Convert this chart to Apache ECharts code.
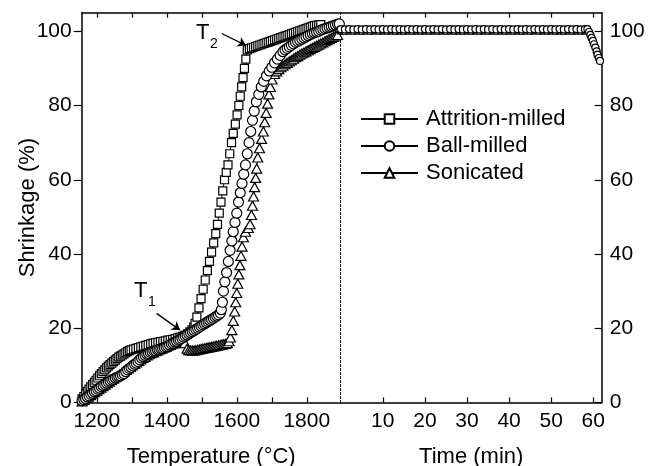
<!DOCTYPE html>
<html>
<head>
<meta charset="utf-8">
<script src="https://cdn.jsdelivr.net/npm/echarts@6/dist/echarts.min.js"></script>
<style>
html, body { margin: 0; padding: 0; background: #fff; }
#chart { width: 658px; height: 466px; }
</style>
</head>
<body>
<div id="chart"></div>
<script>
// shrinkage (%) vs temperature (°C)
const tempAttrition = [
  [1158,1],[1163,1.6],[1168,2.3],[1173,3],[1178,3.6],[1183,4.2],[1188,4.8],[1193,5.4],[1198,6],[1203,6.6],
  [1208,7.2],[1213,7.8],[1218,8.3],[1223,8.8],[1228,9.3],[1233,9.8],[1238,10.2],[1243,10.6],[1248,11],
  [1253,11.4],[1258,11.8],[1263,12.2],[1268,12.5],[1273,12.8],[1278,13.1],[1283,13.4],[1288,13.7],
  [1293,14],[1298,14.2],[1305,14.4],[1312,14.6],[1319,14.8],[1326,15],[1333,15.2],[1340,15.4],
  [1347,15.6],[1354,15.8],[1361,16],[1368,16.1],[1375,16.2],[1382,16.4],[1389,16.5],[1396,16.6],
  [1403,16.8],[1410,16.9],[1417,17],[1424,17.2],[1431,17.4],[1438,17.6],[1445,17.8],[1452,18.1],
  [1459,18.5],[1466,19],[1472,19.6],[1477,20.3],[1481,21.3],[1486,23],[1492,25.5],[1498,28],
  [1504,30.5],[1510,33],[1516,35.5],[1522,38],[1528,40.5],[1534,43],[1540,45.5],[1545,48],[1550,51],
  [1555,54],[1560,57],[1565,60],[1570,62],[1575,64],[1580,67],[1585,70],[1590,72.5],[1596,75],
  [1601,77.5],[1606,80],[1610,82.5],[1614,85],[1618,87.5],[1622,90],[1626,92.5],[1630,95],
  [1636,95.3],[1642,95.5],[1648,95.7],[1654,95.9],[1660,96.1],[1666,96.3],[1672,96.5],[1678,96.7],
  [1684,96.9],[1690,97.1],[1696,97.3],[1702,97.5],[1708,97.7],[1714,97.9],[1720,98.1],[1726,98.3],
  [1732,98.5],[1738,98.7],[1744,98.9],[1750,99.1],[1756,99.3],[1762,99.5],[1768,99.7],[1774,99.9],
  [1780,100.1],[1786,100.3],[1792,100.5],[1798,100.7],[1804,100.9],[1810,101.1],[1816,101.3],
  [1822,101.5],[1828,101.6],[1834,101.7],[1840,101.8]
];
const tempBall = [
  [1158,0.5],[1163,0.8],[1168,1.1],[1173,1.5],[1178,1.8],[1183,2.2],[1188,2.5],[1193,2.9],[1198,3.2],
  [1203,3.6],[1208,3.9],[1213,4.3],[1218,4.6],[1223,4.9],[1228,5.2],[1233,5.5],[1238,5.8],[1243,6.1],
  [1248,6.3],[1253,6.6],[1258,6.8],[1263,7],[1268,7.2],[1273,7.5],[1278,7.8],[1283,8.3],[1288,8.8],
  [1293,9.2],[1298,9.5],[1303,9.9],[1308,10.3],[1313,10.6],[1318,11],[1323,11.5],[1328,12],[1333,12.4],
  [1338,12.7],[1343,13],[1348,13.2],[1353,13.5],[1358,13.7],[1363,13.9],[1368,14],[1373,14.2],
  [1378,14.3],[1383,14.5],[1388,14.6],[1393,14.8],[1398,15],[1403,15.2],[1408,15.5],[1413,15.8],
  [1418,16],[1423,16.3],[1428,16.5],[1433,16.8],[1438,17],[1443,17.3],[1448,17.6],[1453,17.9],
  [1458,18.2],[1463,18.5],[1468,18.8],[1473,19.1],[1478,19.4],[1483,19.7],[1488,20],[1493,20.3],
  [1498,20.6],[1503,20.9],[1508,21.2],[1513,21.5],[1518,21.8],[1523,22.1],[1528,22.4],[1533,22.7],
  [1538,23],[1543,23.3],[1548,23.6],[1553,24.1],[1556,25],[1559,27],[1562,30],[1566,32.5],[1571,35],
  [1576,38],[1581,41],[1586,43.5],[1590,46],[1595,48.5],[1600,51],[1605,54],[1610,56.5],[1615,59],
  [1620,61.5],[1625,64],[1630,67],[1635,70],[1640,73],[1645,76],[1650,78.5],[1656,81],[1663,83],
  [1670,85],[1677,86.5],[1685,88],[1693,89.3],[1700,90.3],[1708,91.5],[1716,92.5],[1724,93.5],
  [1732,94.5],[1738,95],[1744,95.4],[1750,95.8],[1756,96.2],[1762,96.6],[1768,97],[1774,97.3],
  [1780,97.6],[1786,97.9],[1792,98.2],[1798,98.5],[1804,98.8],[1810,99.1],[1816,99.4],[1822,99.6],
  [1828,99.8],[1834,100],[1840,100.3],[1846,100.5],[1852,100.7],[1858,100.9],[1864,101.1],
  [1870,101.3],[1876,101.5],[1882,101.7],[1888,101.9],[1893,102]
];
const tempSonic = [
  [1158,0.3],[1164,0.7],[1170,1.2],[1176,1.6],[1182,2],[1188,2.4],[1194,2.8],[1200,3.2],[1206,3.6],
  [1212,4],[1218,4.4],[1224,4.8],[1230,5.2],[1236,5.6],[1242,6],[1248,6.4],[1254,6.8],[1260,7.2],
  [1266,7.6],[1272,8],[1278,8.4],[1284,8.8],[1290,9.2],[1296,9.6],[1302,10],[1308,10.4],[1314,10.8],
  [1320,11.2],[1326,11.6],[1332,12],[1338,12.3],[1344,12.7],[1350,13],[1356,13.3],[1362,13.5],
  [1368,13.8],[1374,14],[1380,14.3],[1386,14.5],[1392,14.8],[1398,15],[1404,15.3],[1410,15.5],
  [1416,15.8],[1422,16],[1428,16.3],[1434,16.5],[1440,16.8],[1446,17],[1452,16],[1458,14.5],
  [1463,14.1],[1468,14],[1473,14],[1478,14],[1483,14.1],[1488,14.2],[1493,14.3],[1498,14.4],
  [1503,14.5],[1508,14.6],[1513,14.7],[1518,14.8],[1523,14.9],[1528,15],[1533,15.1],[1538,15.2],
  [1543,15.3],[1548,15.4],[1553,15.5],[1558,15.6],[1563,15.7],[1568,15.8],[1573,16],[1578,16.5],
  [1582,17.5],[1586,19.5],[1590,22],[1594,24.5],[1597,27],[1600,29.5],[1603,32],[1606,34.5],
  [1609,37],[1612,39.5],[1615,42],[1619,44.5],[1625,46],[1633,47],[1638,48],[1642,50.5],[1645,53],
  [1648,55.5],[1651,58],[1654,60.5],[1657,63],[1660,66],[1665,68.5],[1671,71],[1676,73],[1680,75.5],
  [1684,78],[1688,80.5],[1692,83],[1696,85],[1701,87],[1708,88.5],[1714,89.2],[1720,89.8],
  [1726,90.3],[1732,90.7],[1738,91.1],[1744,91.5],[1750,91.9],[1756,92.2],[1762,92.6],[1768,93],
  [1774,93.3],[1780,93.7],[1786,94],[1792,94.3],[1798,94.6],[1804,94.9],[1810,95.2],[1816,95.5],
  [1822,95.8],[1828,96.1],[1834,96.4],[1840,96.7],[1846,97],[1852,97.3],[1858,97.6],[1864,97.9],
  [1870,98.2],[1876,98.5],[1882,98.8],[1888,99]
];

// shrinkage (%) vs holding time (min)
const timeMin = [0,1,2,3,4,5,6,7,8,9,10,11,12,13,14,15,16,17,18,19,20,21,22,23,24,25,26,27,28,29,
  30,31,32,33,34,35,36,37,38,39,40,41,42,43,44,45,46,47,48,49,50,51,52,53,54,55,56,57,58];
const timeAttrition = [100.4,100.3,100.4,100.3,100.4,100.3,100.4,100.3,100.4,100.3,100.4,100.3,100.4,100.3,100.4,
  100.3,100.4,100.3,100.4,100.3,100.4,100.3,100.4,100.3,100.4,100.3,100.4,100.3,100.4,100.3,
  100.4,100.3,100.4,100.3,100.4,100.3,100.4,100.3,100.4,100.3,100.4,100.3,100.4,100.3,100.4,
  100.3,100.4,100.3,100.4,100.3,100.4,100.3,100.4,100.3,100.4,100.3,100.4,100.3,100.4];
const timeBall = [100.6,100.5,100.6,100.5,100.6,100.5,100.6,100.5,100.6,100.5,100.6,100.5,100.6,100.5,100.6,
  100.5,100.6,100.5,100.6,100.5,100.6,100.5,100.6,100.5,100.6,100.5,100.6,100.5,100.6,100.5,
  100.6,100.5,100.6,100.5,100.6,100.5,100.6,100.5,100.6,100.5,100.6,100.5,100.6,100.5,100.6,
  100.5,100.6,100.5,100.6,100.5,100.6,100.5,100.6,100.5,100.6,100.5,100.6,100.5,100.6];
const timeSonic = [100.1,100,100.1,100,100.1,100,100.1,100,100.1,100,100.1,100,100.1,100,100.1,
  100,100.1,100,100.1,100,100.1,100,100.1,100,100.1,100,100.1,100,100.1,100,
  100.1,100,100.1,100,100.1,100,100.1,100,100.1,100,100.1,100,100.1,100,100.1,
  100,100.1,100,100.1,100,100.1,100,100.1,100,100.1,100,100.1,100,100.1];
const ballTail = [[58.6,100.6],[59.0,99.8],[59.3,99],[59.6,98.2],[59.9,97.4],[60.2,96.5],
  [60.5,95.6],[60.8,94.6],[61.0,93.7],[61.3,92.8],[61.6,92]];

const tempTicks = [1200,1300,1400,1500,1600,1700,1800];
const tempLabels = [1200,1400,1600,1800];
const timeTicks = [10,20,30,40,50,60];
const yTicks = [0,20,40,60,80,100];

const names = ['Attrition-milled','Ball-milled','Sonicated'];
const FONT = '"Liberation Sans", Arial, sans-serif';

function pairs(xs, ys) { return xs.map((x, i) => [x, ys[i]]); }
function plain(v) { return String(v); }

function mkSeries(name, data, symbol, size, xi, yi, lw, bw) {
  return {
    type: 'line', name: name, data: data,
    xAxisIndex: xi, yAxisIndex: yi,
    symbol: symbol, symbolSize: size, showAllSymbol: true,
    lineStyle: { color: '#000', width: lw || 1 },
    itemStyle: { color: '#fff', borderColor: '#000', borderWidth: bw || 1.2 },
    emphasis: { disabled: true },
    animation: false
  };
}

function xAx(grid, pos, min, max, ticks, labels, name) {
  return {
    type: 'value', gridIndex: grid, position: pos, min: min, max: max,
    axisLine: { show: true, onZero: false, lineStyle: { color: '#000', width: 1.5 } },
    axisTick: { show: true, inside: true, length: 5, customValues: ticks, lineStyle: { color: '#000', width: 1.2 } },
    axisLabel: labels ? { customValues: labels, formatter: plain, color: '#000', fontSize: 21, fontFamily: FONT, margin: 8 } : { show: false },
    splitLine: { show: false },
    name: name || '', nameLocation: 'middle', nameGap: 43,
    nameTextStyle: { color: '#000', fontSize: 22, fontFamily: FONT }
  };
}

const attSeries = mkSeries(names[0], tempAttrition, 'rect', 8, 0, 0);
attSeries.markLine = {
  silent: true, symbol: ['none', 'arrow'], symbolSize: 8, animation: false,
  label: { show: false },
  lineStyle: { color: '#000', width: 1.3, type: 'solid' },
  data: [
    [{ coord: [1557, 99.4] }, { coord: [1626, 96.2] }],
    [{ coord: [1371, 24] }, { coord: [1438, 19.5] }]
  ]
};

const chart = echarts.init(document.getElementById('chart'));
chart.setOption({
  backgroundColor: '#fff',
  animation: false,
  textStyle: { fontFamily: FONT },
  grid: [
    { left: 81.7, top: 12.7, width: 259, height: 389.8, outerBoundsMode: 'none' },
    { left: 340.7, top: 12.7, width: 261, height: 389.8, outerBoundsMode: 'none' }
  ],
  xAxis: [
    xAx(0, 'bottom', 1157, 1897, tempTicks, tempLabels, 'Temperature (°C)'),
    xAx(0, 'top', 1157, 1897, tempTicks, null),
    xAx(1, 'bottom', 0, 62, timeTicks, timeTicks, 'Time (min)'),
    xAx(1, 'top', 0, 62, timeTicks, null)
  ],
  yAxis: [
    {
      type: 'value', gridIndex: 0, position: 'left', min: 0, max: 105,
      axisLine: { show: true, onZero: false, lineStyle: { color: '#000', width: 1.5 } },
      axisTick: { show: true, inside: false, length: 8, customValues: yTicks, lineStyle: { color: '#000', width: 1.2 } },
      axisLabel: { customValues: yTicks, formatter: plain, color: '#000', fontSize: 21, fontFamily: FONT, margin: 10 },
      splitLine: { show: false },
      name: 'Shrinkage (%)', nameLocation: 'middle', nameGap: 43, nameRotate: 90, nameMoveOverlap: false,
      nameTextStyle: { color: '#000', fontSize: 22, fontFamily: FONT }
    },
    {
      type: 'value', gridIndex: 1, position: 'right', min: 0, max: 105,
      axisLine: { show: true, onZero: false, lineStyle: { color: '#000', width: 1.5 } },
      axisTick: { show: true, inside: true, length: 7, customValues: yTicks, lineStyle: { color: '#000', width: 1.2 } },
      axisLabel: { customValues: yTicks, formatter: plain, color: '#000', fontSize: 21, fontFamily: FONT, margin: 8 },
      splitLine: { show: false }
    },
    {
      type: 'value', gridIndex: 1, position: 'left', min: 0, max: 105,
      axisLine: { show: true, onZero: false, lineStyle: { color: '#000', width: 1, type: [2, 2] } },
      axisTick: { show: false }, axisLabel: { show: false }, splitLine: { show: false }
    }
  ],
  legend: {
    data: names, orient: 'vertical', left: 360, top: 108, padding: 0,
    itemWidth: 57, itemHeight: 12, itemGap: 5, selectedMode: false,
    textStyle: { color: '#000', fontSize: 22, fontFamily: FONT, padding: [0, 0, 0, 3] }
  },
  series: [
    attSeries,
    mkSeries(names[2], tempSonic, 'triangle', [10, 9], 0, 0),
    mkSeries(names[1], tempBall, 'circle', 10, 0, 0),
    mkSeries(names[0], pairs(timeMin, timeAttrition), 'rect', 6, 2, 1, 4),
    mkSeries(names[2], pairs(timeMin, timeSonic), 'triangle', 6, 2, 1, 4),
    mkSeries(names[1], pairs(timeMin, timeBall).concat(ballTail), 'circle', 7, 2, 1, 4)
  ],
  graphic: [
    { type: 'text', left: 196, top: 22, style: { text: 'T', fontSize: 22, fontFamily: FONT, fill: '#000' } },
    { type: 'text', left: 210, top: 37, style: { text: '2', fontSize: 14, fontFamily: FONT, fill: '#000' } },
    { type: 'text', left: 134, top: 280, style: { text: 'T', fontSize: 22, fontFamily: FONT, fill: '#000' } },
    { type: 'text', left: 148, top: 295, style: { text: '1', fontSize: 14, fontFamily: FONT, fill: '#000' } }
  ]
});
window.onresize = function () { chart.resize(); };
</script>
</body>
</html>
